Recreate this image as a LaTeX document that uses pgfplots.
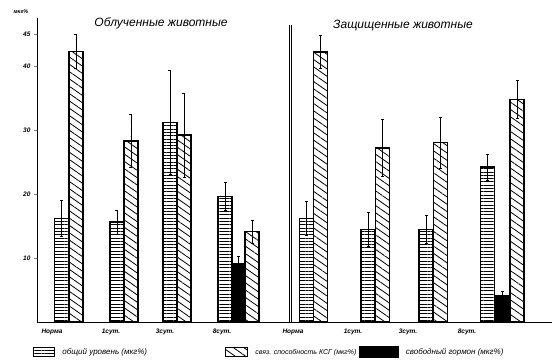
\documentclass[border=0pt]{standalone}
\usepackage{fontspec}
\setmainfont{Liberation Sans}
\usepackage{pgfplots}
\pgfplotsset{compat=1.18}
\usetikzlibrary{patterns.meta}

\tikzset{
 hpat/.style={pattern={Lines[angle=0,distance=3.3pt,line width=0.7pt]}, pattern color=black},
 dpat/.style={pattern={Lines[angle=-35,distance=6pt,line width=0.8pt]}, pattern color=black},
}

\begin{document}
\begin{tikzpicture}
\begin{axis}[
  scale only axis, width=515pt, height=304pt,
  xmin=37, xmax=552, ymin=0, ymax=47.5,
  axis x line*=bottom, axis y line*=left,
  axis line style={line width=0.9pt},
  clip=false,
  ytick={10,20,30,40,45},
  tick align=outside, major tick length=3pt,
  ytick style={line width=0.6pt},
  /pgf/number format/assume math mode=true,
  yticklabel style={font=\itshape\bfseries\fontsize{6.5}{7}\selectfont},
  xtick={52,111,165,222,293,353,408,467},
  xticklabels={Норма,1сут.,3сут.,8сут.,Норма,1сут.,3сут.,8сут.},
  xticklabel style={font=\itshape\bfseries\fontsize{6.5}{7}\selectfont},
  xtick style={draw=none},
  legend columns=3,
  legend style={draw=none, fill=none, at={(axis cs:30,-4.7)}, anchor=west,
    font=\itshape\fontsize{8}{9}\selectfont,
    /tikz/every odd column/.append style={column sep=5pt},
    /tikz/column 2/.style={column sep=76pt},
    /tikz/column 4/.style={column sep=1pt}},
  error bars/y dir=both, error bars/y explicit,
  error bars/error bar style={line width=0.6pt},
  error bars/error mark options={rotate=90, mark size=1.5pt, line width=0.6pt},
]
% общий уровень
\addplot[ybar, bar shift=0pt, bar width=14, draw=black, line width=1.4pt, hpat,
  legend image code/.code={\draw[line width=1.2pt, hpat] (0pt,-4pt) rectangle (21pt,5pt);}]
  table[x=x, y=y, y error=e] {
x y e
61.5 16.2 2.8
117 15.6 1.9
170 31.2 8.1
225 19.6 2.2
306.5 16.2 2.6
368 14.5 2.6
426 14.5 2.2
487.5 24.2 2.0
};
\addlegendentry{общий уровень (мкг\%)}
% связ. способность КСГ
\addplot[ybar, bar shift=0pt, bar width=14, draw=black, line width=1.4pt, dpat,
  legend image code/.code={\draw[line width=1.2pt, dpat] (0pt,-4pt) rectangle (22pt,5pt);}]
  table[x=x, y=y, y error=e] {
x y e
76 42.3 2.6
131 28.3 4.1
184 29.2 6.6
252 14.1 1.8
320.5 42.2 2.6
382.5 27.2 4.4
440.5 28.0 4.0
517 34.8 3.0
};
\addlegendentry{\fontsize{7}{8}\selectfont связ. способность КСГ (мкг\%)}
% свободный гормон
\addplot[ybar, bar shift=0pt, bar width=13, draw=black, fill=black, line width=1.4pt,
  legend image code/.code={\fill[black] (0pt,-5pt) rectangle (38pt,6pt);}]
  table[x=x, y=y, y error=e] {
x y e
238.5 9.1 1.1
502.5 4.1 0.7
};
\addlegendentry{свободный гормон (мкг\%)}

\draw[line width=0.5pt] (axis cs:289,0) -- (axis cs:289,46.4);
\draw[line width=0.5pt] (axis cs:291.5,0) -- (axis cs:291.5,46.4);
\node[font=\itshape\fontsize{12}{13}\selectfont] at (axis cs:161,46.6) {Облученные животные};
\node[font=\itshape\fontsize{12}{13}\selectfont] at (axis cs:403,46.4) {Защищенные животные};
\node[font=\itshape\bfseries\fontsize{5.5}{6}\selectfont] at (axis cs:21,48.5) {мкг\%};
\end{axis}
\pgfresetboundingbox
\path (current axis.south west) ++(-37pt,-38pt) rectangle ++(552pt,360pt);
\end{tikzpicture}
\end{document}
